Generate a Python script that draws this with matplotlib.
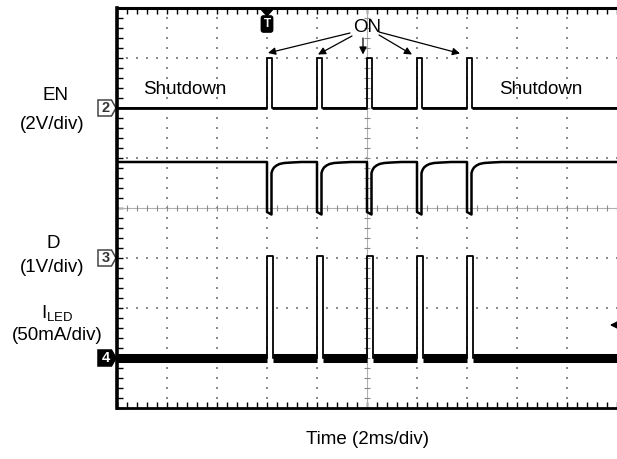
import matplotlib.pyplot as plt
import numpy as np
from matplotlib.patches import Polygon

plt.rcParams['font.family'] = ['Liberation Sans', 'DejaVu Sans']

# scope screen: 10 x 8 divisions, values below are in divisions
pulse_start = [3.0, 4.0, 5.0, 6.0, 7.0]
en_pulse_width = 0.09
iled_pulse_width = 0.11
en_low, en_high = 6.0, 7.0
out_base, out_dip, out_dip_end = 4.92, 3.92, 3.87
recovery_dt = [0.0, 0.02, 0.05, 0.1, 0.16, 0.25, 0.4, 0.6]
recovery_level = [4.70, 4.76, 4.81, 4.85, 4.88, 4.90, 4.91, 4.92]
iled_base, iled_peak = 1.0, 3.05
trig_level = 1.66

W, H = 617, 459
fig = plt.figure(figsize=(W / 100, H / 100), dpi=100)
ax = fig.add_axes([117 / W, 51 / H, 500 / W, 400 / H])
ax.set_xlim(0, 10)
ax.set_ylim(0, 8)

# graticule
steps_x = np.arange(0, 10.01, 0.2)
steps_y = np.arange(0, 8.01, 0.2)
for gx in range(1, 10):
    if gx != 5:
        ax.plot(np.full(len(steps_y), gx), steps_y, ls='none', marker='s',
                ms=1.5, color='#8a8a8a', mew=0)
for gy in range(1, 8):
    if gy != 4:
        ax.plot(steps_x, np.full(len(steps_x), gy), ls='none', marker='s',
                ms=1.5, color='#8a8a8a', mew=0)
ax.axvline(5, color='#b0b0b0', lw=0.8)
ax.axhline(4, color='#b0b0b0', lw=0.8)
ax.plot(np.full(len(steps_y), 5), steps_y, ls='none', marker='_', ms=5,
        color='#8a8a8a', mew=0.8)
ax.plot(steps_x, np.full(len(steps_x), 4), ls='none', marker='|', ms=5,
        color='#8a8a8a', mew=0.8)

ax.set_xticks(steps_x)
ax.set_yticks(steps_y)
ax.tick_params(direction='in', length=4, width=1, top=True, bottom=True,
               left=True, right=False, labelbottom=False, labelleft=False)
ax.spines['right'].set_visible(False)
ax.spines['left'].set_linewidth(2.6)
ax.spines['top'].set_linewidth(2.2)
ax.spines['bottom'].set_linewidth(2.0)

# EN trace
ex, ey = [0.0], [en_low]
for t in pulse_start:
    ex += [t, t, t + en_pulse_width, t + en_pulse_width]
    ey += [en_low, en_high, en_high, en_low]
ex.append(10.0)
ey.append(en_low)
ax.plot(ex, ey, color='black', lw=1.3)
seg_start = [0.0] + [t + en_pulse_width for t in pulse_start]
seg_end = pulse_start + [10.0]
for a, b in zip(seg_start, seg_end):
    ax.plot([a, b], [en_low, en_low], color='black', lw=2.0,
            solid_capstyle='butt')

# second trace (dips during pulses, slow recovery)
ox, oy = [0.0], [out_base]
for t in pulse_start:
    te = t + en_pulse_width
    ox += [t, t, te]
    oy += [out_base, out_dip, out_dip_end]
    ox += [te + dt for dt in recovery_dt]
    oy += recovery_level
ox.append(10.0)
oy.append(out_base)
ax.plot(ox, oy, color='black', lw=1.8)

# ILED trace
ix, iy = [0.0], [iled_base]
for t in pulse_start:
    ix += [t, t, t + iled_pulse_width, t + iled_pulse_width]
    iy += [iled_base, iled_peak, iled_peak, iled_base]
ix.append(10.0)
iy.append(iled_base)
ax.plot(ix, iy, color='black', lw=1.3)
seg_start = [0.0] + [t + iled_pulse_width for t in pulse_start]
seg_end = pulse_start + [10.0]
for a, b in zip(seg_start, seg_end):
    ax.plot([a, b], [iled_base, iled_base], color='black', lw=6.5,
            solid_capstyle='butt')


def tag(y, label, filled):
    pts = [(-0.38, y - 0.16), (-0.11, y - 0.16), (-0.02, y),
           (-0.11, y + 0.16), (-0.38, y + 0.16)]
    ax.add_patch(Polygon(pts, closed=True, clip_on=False, lw=1.1,
                         facecolor='black' if filled else 'white',
                         edgecolor='black' if filled else '#444'))
    ax.text(-0.23, y, label, ha='center', va='center', fontsize=10.5,
            fontweight='bold', color='white' if filled else '#333',
            clip_on=False)


tag(6.0, '2', False)
tag(3.0, '3', False)
tag(1.0, '4', True)

# trigger position marker
ax.add_patch(Polygon([(2.86, 8.0), (3.14, 8.0), (3.0, 7.84)], closed=True,
                     clip_on=False, facecolor='black', edgecolor='black'))
ax.text(3.0, 7.68, 'T', ha='center', va='center', fontsize=8.5,
        fontweight='bold', color='white',
        bbox=dict(boxstyle='round,pad=0.18', fc='black', ec='black'))

# trigger level marker
ax.annotate('', xy=(9.8, trig_level), xytext=(10.0, trig_level),
            arrowprops=dict(arrowstyle='-|>', color='black', lw=1.2,
                            mutation_scale=12), annotation_clip=False)

# ON annotations
on_tips = [(3.02, 7.1), (4.02, 7.07), (4.92, 7.07), (5.9, 7.07), (6.86, 7.09)]
on_tails = [(4.66, 7.5), (4.7, 7.44), (4.92, 7.4), (5.24, 7.46), (5.24, 7.52)]
ax.text(5.0, 7.62, 'ON', ha='center', va='center', fontsize=13.5)
for tip, tail in zip(on_tips, on_tails):
    ax.annotate('', xy=tip, xytext=tail,
                arrowprops=dict(arrowstyle='-|>', color='black', lw=0.9,
                                mutation_scale=11, shrinkA=0, shrinkB=0))


def label(x, y, s):
    fig.text(x / W, 1 - y / H, s, ha='center', va='center', fontsize=13.5)


label(185, 89, 'Shutdown')
label(541, 89, 'Shutdown')
label(55, 96, 'EN')
label(52, 124, '(2V/div)')
label(53, 243, 'D')
label(52, 268, '(1V/div)')
label(57, 313, r'$\mathregular{I_{LED}}$')
label(57, 336, '(50mA/div)')
label(368, 440, 'Time (2ms/div)')

fig.savefig('out.png', dpi=100, facecolor='white')
